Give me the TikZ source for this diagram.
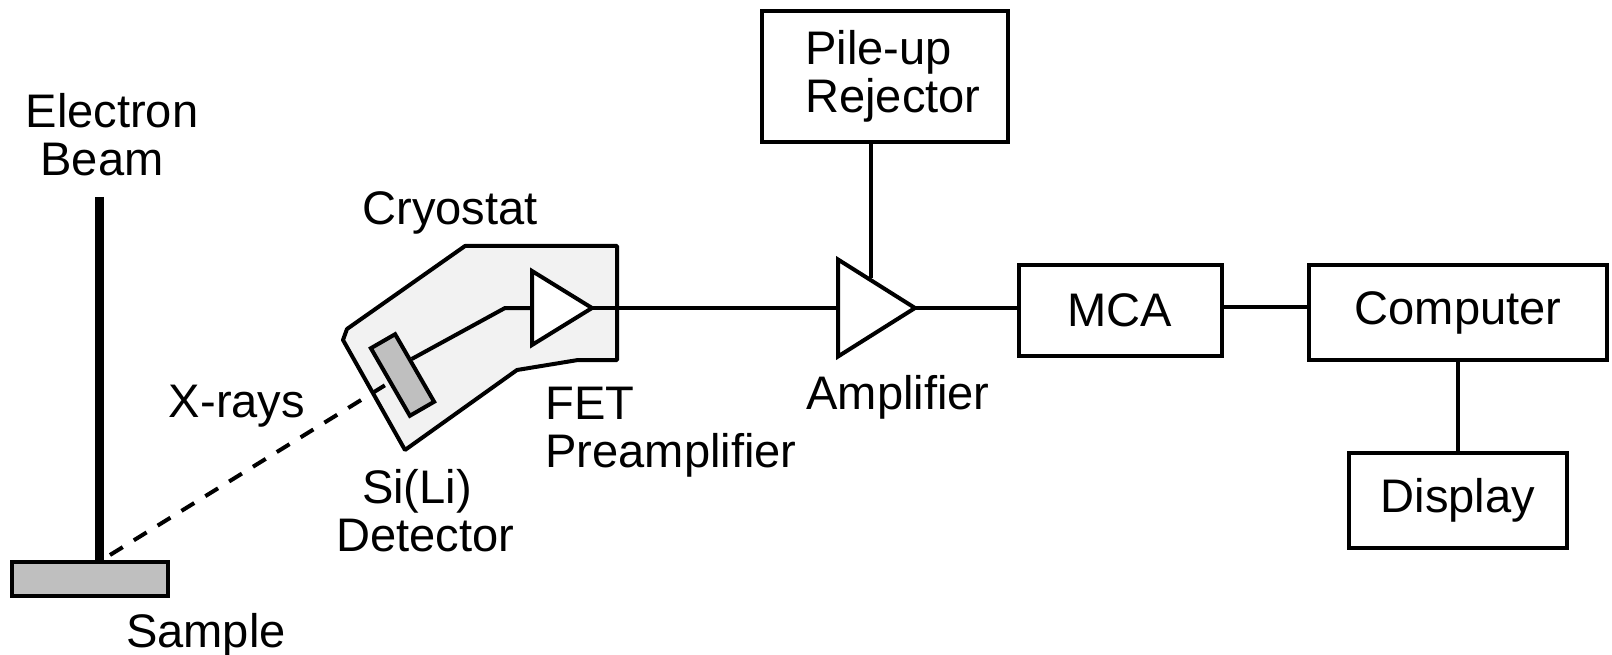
\documentclass[tikz,border=0pt]{standalone}
\usepackage{fontspec}
\setmainfont{Liberation Sans}
\usetikzlibrary{shapes.geometric}
\begin{document}
\begin{tikzpicture}[x=0.1mm, y=-0.1mm, line width=0.4mm,
  every node/.style={font=\fontsize{13.4}{13.6}\selectfont},
  lbl/.style={inner sep=0pt, align=center},
  box/.style={rectangle, draw, fill=white, inner sep=0pt},
  amptri/.style={isosceles triangle, isosceles triangle stretches, draw, fill=white, inner sep=0pt, outer sep=0pt, anchor=lower side}]
  \useasboundingbox (0,0) rectangle (1612,655);
  % cryostat housing
  \draw[fill=black!5, line join=bevel] (465,246) -- (617,246) -- (617,360) -- (578,360) -- (517,370) -- (405,450) -- (343,340) -- (347,329) -- cycle;
  % sample and beam
  \node[box, fill=black!25, line width=0.45mm, minimum width=15.6mm, minimum height=3.4mm] (sample) at (90,579) {};
  \coordinate (beamtop) at (99,197);
  \draw[line width=0.9mm] (beamtop) -- (beamtop |- sample.north);
  % detector
  \node[box, fill=black!25, minimum width=7.8mm, minimum height=2.8mm, rotate=-60] (det) at (402.5,375) {};
  \coordinate (xfoot) at (110,555);
  \draw[dash pattern=on 1.5mm off 1.3mm] (xfoot) -- (det.south);
  % amplifiers
  \node[amptri, minimum height=6mm, minimum width=7.4mm] (preamp) at (532,308) {};
  \node[amptri, minimum height=7.7mm, minimum width=9.7mm] (amp) at (838,308) {};
  \coordinate (wirebend) at (505,308);
  \draw (det.120) -- (wirebend) -- (preamp.lower side);
  \draw (preamp.apex) -- (amp.lower side);
  % boxes
  \node[box, minimum width=24.6mm, minimum height=13.1mm] (pile) at (885,76.5) {};
  \node[lbl, align=left] (pilelbl) at (893,76.5) {Pile-up\\Rejector};
  \node[box, minimum width=20.3mm, minimum height=9.1mm] (mca) at (1120,310.5) {MCA};
  \node[box, minimum width=29.8mm, minimum height=9.5mm] (comp) at (1458,312.5) {Computer};
  \node[box, minimum width=21.8mm, minimum height=9.5mm] (disp) at (1458,500.5) {Display};
  \coordinate (ampt) at (871,278);
  \coordinate (bus) at (1240,307);
  \draw (pile.south -| ampt) -- (ampt);
  \draw (amp.apex) -- (amp.apex -| mca.west);
  \draw (mca.east |- bus) -- (comp.west |- bus);
  \draw (comp.south) -- (disp.north);
  % labels
  \node[lbl] (beamlbl) at (112,135) {Electron\\Beam\hspace*{2mm}};
  \node[lbl] (cryolbl) at (450,213) {Cryostat};
  \node[lbl] (xlbl) at (237,406) {X-rays};
  \node[lbl, align=left] (fetlbl) at (671,432) {FET\\Preamplifier};
  \node[lbl] (detlbl) at (425,511) {Si(Li)\hspace*{1.6mm}\\Detector};
  \node[lbl] (amplbl) at (898,397) {Amplifier};
  \node[lbl] (samplelbl) at (206,635) {Sample};
\end{tikzpicture}
\end{document}
